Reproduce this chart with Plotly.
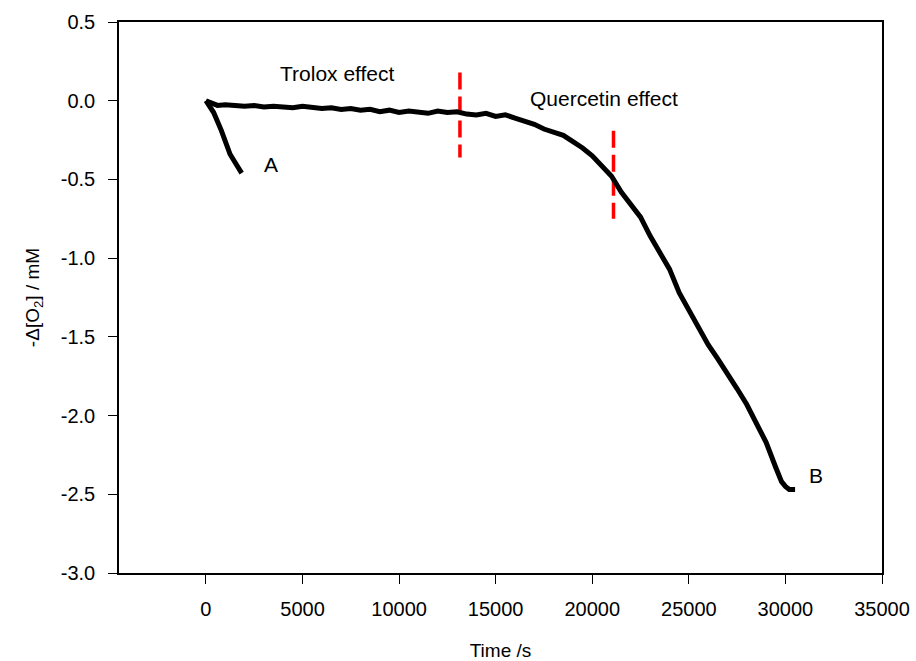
import plotly.graph_objects as go

# Curve A
a_x = [0, 150, 400, 800, 1250, 1600, 1850]
a_y = [0.0, -0.03, -0.075, -0.19, -0.34, -0.41, -0.46]

# Curve B
b_x = [0, 150, 300, 600, 1000, 1500, 2000, 2500, 3000, 3500, 4000, 4500, 5000, 5500,
       6000, 6500, 7000, 7500, 8000, 8500, 9000, 9500, 10000, 10500, 11000, 11500,
       12000, 12500, 13000, 13500, 14000, 14500, 15000, 15500, 16000, 16500, 17000,
       17500, 18000, 18500, 19000, 19500, 20000, 20500, 21000, 21500, 22000, 22500,
       23000, 23500, 24000, 24500, 25000, 25500, 26000, 26500, 27000, 27500, 28000,
       28500, 29000, 29500, 29800, 30000, 30200, 30500]
b_y = [0.0, -0.005, -0.015, -0.03, -0.025, -0.03, -0.035, -0.03, -0.04, -0.035, -0.04,
       -0.045, -0.035, -0.045, -0.05, -0.045, -0.055, -0.05, -0.06, -0.055, -0.07,
       -0.06, -0.075, -0.065, -0.07, -0.08, -0.065, -0.075, -0.07, -0.085, -0.09,
       -0.08, -0.1, -0.09, -0.11, -0.13, -0.15, -0.18, -0.2, -0.22, -0.26, -0.3,
       -0.35, -0.41, -0.48, -0.58, -0.66, -0.74, -0.86, -0.96, -1.07, -1.22, -1.33,
       -1.45, -1.55, -1.64, -1.73, -1.83, -1.93, -2.05, -2.17, -2.33, -2.42, -2.45,
       -2.47, -2.47]

# Red marker lines
red_x = [13150, 21100]
red_y_top = [0.18, -0.19]
red_y_bot = [-0.36, -0.75]

# Annotations
labels = ["Trolox effect", "Quercetin effect", "A", "B"]
label_x = [6830, 20600, 3390, 31580]
label_y = [0.176, 0.017, -0.408, -2.381]

# Axis ticks
x_ticks = [0, 5000, 10000, 15000, 20000, 25000, 30000, 35000]
y_ticks = [0.5, 0.0, -0.5, -1.0, -1.5, -2.0, -2.5, -3.0]
y_tick_text = ["0.5", "0.0", "-0.5", "-1.0", "-1.5", "-2.0", "-2.5", "-3.0"]

FONT = "Liberation Sans, Arial"

fig = go.Figure()

for xv, yt, yb in zip(red_x, red_y_top, red_y_bot):
    fig.add_trace(go.Scatter(x=[xv, xv], y=[yt, yb], mode="lines",
                             line=dict(color="#ff0000", width=3.5, dash="17px,7px"),
                             showlegend=False, hoverinfo="skip"))

fig.add_trace(go.Scatter(x=a_x, y=a_y, mode="lines",
                         line=dict(color="black", width=5), showlegend=False))
fig.add_trace(go.Scatter(x=b_x, y=b_y, mode="lines",
                         line=dict(color="black", width=5), showlegend=False))

for t, xv, yv in zip(labels, label_x, label_y):
    fig.add_annotation(x=xv, y=yv, text=t, showarrow=False,
                       font=dict(family=FONT, size=21, color="black"))

fig.update_layout(
    width=916, height=661,
    margin=dict(l=119, r=34, t=22, b=88),
    paper_bgcolor="white", plot_bgcolor="white",
    font=dict(family=FONT, size=19, color="black"),
    xaxis=dict(range=[-4500, 35000], tickvals=x_ticks, tickformat="d",
               automargin=False,
               ticks="outside", ticklen=9, tickwidth=1, tickcolor="black",
               showline=True, linecolor="black", linewidth=1.5, mirror=True,
               showgrid=False, zeroline=False, ticklabelstandoff=8,
               tickfont=dict(family=FONT, size=20),
               title=dict(text="Time /s", standoff=25,
                          font=dict(family=FONT, size=19))),
    yaxis=dict(range=[-3.0, 0.5], tickvals=y_ticks, ticktext=y_tick_text,
               automargin=False,
               ticks="outside", ticklen=9, tickwidth=1, tickcolor="black",
               showline=True, linecolor="black", linewidth=1.5, mirror=True,
               showgrid=False, zeroline=False, ticklabelstandoff=9,
               tickfont=dict(family=FONT, size=20),
               title=dict(text="-Δ[O<sub>2</sub>] / mM", standoff=16,
                          font=dict(family=FONT, size=19))),
)

fig.write_html("out.html")
